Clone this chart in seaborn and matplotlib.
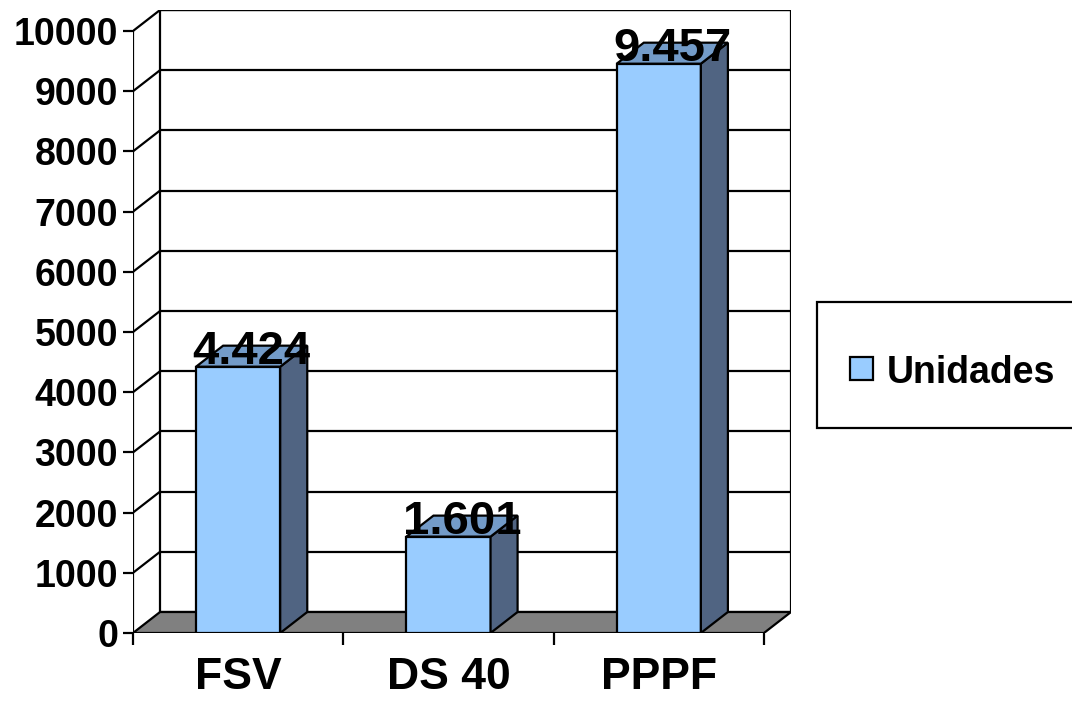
import matplotlib
matplotlib.use("Agg")
import matplotlib.pyplot as plt
from matplotlib.patches import Polygon, Rectangle
import seaborn as sns
import numpy as np

# ---- data ----
categories = ["FSV", "DS 40", "PPPF"]
values = [4424, 1601, 9457]
value_labels = ["4.424", "1.601", "9.457"]
y_ticks = [0, 1000, 2000, 3000, 4000, 5000, 6000, 7000, 8000, 9000, 10000]
series_name = "Unidades"

# ---- style ----
sns.set_style("white")
plt.rcParams['font.family'] = ['Liberation Sans', 'DejaVu Sans']
plt.rcParams['font.weight'] = 'bold'
plt.rcParams['text.color'] = 'black'
plt.rcParams['xtick.color'] = 'black'
plt.rcParams['ytick.color'] = 'black'
plt.rcParams['axes.labelcolor'] = 'black'

FRONT = "#99CCFF"
SIDE = "#506482"
TOP = "#739BC8"
FLOOR = "#808080"
LW = 1.6

W, H = 1072, 705
fig = plt.figure(figsize=(W / 100, H / 100), dpi=100)
ax = fig.add_axes([133 / W, (H - 633) / H, 658 / W, 623 / H])

# depth offset in data units
px_per_cat = 210.0
px_per_unit = 60.2 / 1000.0
d = 27 / px_per_cat
h = 21 / px_per_unit
x0, x1 = -0.5, len(categories) - 0.5
ymax = y_ticks[-1]

# back wall
ax.add_patch(Polygon([(x0 + d, h), (x1 + d, h), (x1 + d, ymax + h), (x0 + d, ymax + h)],
                     closed=True, facecolor="white", edgecolor="black", lw=LW, zorder=1))
# grid on back wall and side wall
for t in y_ticks[1:]:
    ax.plot([x0 + d, x1 + d], [t + h, t + h], color="black", lw=LW, zorder=1.1,
            solid_capstyle="butt")
    ax.plot([x0, x0 + d], [t, t + h], color="black", lw=LW, zorder=1.1)
# left front axis line
ax.plot([x0, x0], [0, ymax], color="black", lw=LW, zorder=1.2)
# floor
ax.add_patch(Polygon([(x0, 0), (x1, 0), (x1 + d, h), (x0 + d, h)],
                     closed=True, facecolor=FLOOR, edgecolor="black", lw=LW, zorder=1.5))

# bars (front faces) via seaborn
bw = 0.4
sns.barplot(x=categories, y=values, width=bw, color=FRONT, saturation=1,
            edgecolor="black", linewidth=LW, ax=ax, zorder=3)
for p in ax.patches:
    if isinstance(p, Rectangle):
        p.set_zorder(3)

# side and top faces
for i, v in enumerate(values):
    l, r = i - bw / 2, i + bw / 2
    ax.add_patch(Polygon([(r, 0), (r + d, h), (r + d, v + h), (r, v)], closed=True,
                         facecolor=SIDE, edgecolor="black", lw=LW, zorder=3))
    ax.add_patch(Polygon([(l, v), (r, v), (r + d, v + h), (l + d, v + h)], closed=True,
                         facecolor=TOP, edgecolor="black", lw=LW, zorder=3))
    ax.text(i + d / 2, v + 50, value_labels[i], ha="center", va="baseline",
            fontsize=34, fontweight="bold", color="black", zorder=5)

ax.set_xlim(x0, x1 + d)
ax.set_ylim(0, ymax + h)
ax.set_xlabel("")
ax.set_ylabel("")
for s in ax.spines.values():
    s.set_visible(False)

ax.set_yticks(y_ticks)
ax.set_yticklabels([str(t) for t in y_ticks], fontsize=27, fontweight="bold")
ax.tick_params(axis="y", which="major", left=True, length=7.2, width=LW, pad=3.6,
               color="black", labelcolor="black")
ax.set_xticks(range(len(categories)))
ax.set_xticklabels(categories, fontsize=32, fontweight="bold")
ax.set_xticks(np.arange(len(categories) + 1) - 0.5, minor=True)
ax.tick_params(axis="x", which="major", bottom=False, length=0, pad=17,
               labelcolor="black")
ax.tick_params(axis="x", which="minor", bottom=True, length=8.5, width=LW, color="black")
ax.grid(False)

# legend (manual box)
fig.patches.append(Rectangle((817 / W, (H - 428) / H), (1080 - 817) / W, 126 / H,
                             transform=fig.transFigure, facecolor="white",
                             edgecolor="black", lw=LW, clip_on=False))
fig.patches.append(Rectangle((850 / W, (H - 380) / H), 23 / W, 23 / H,
                             transform=fig.transFigure, facecolor=FRONT,
                             edgecolor="black", lw=LW))
fig.text(887 / W, (H - 369) / H, series_name, ha="left", va="center_baseline",
         fontsize=27, fontweight="bold", color="black")

fig.savefig("out.png", dpi=100)
